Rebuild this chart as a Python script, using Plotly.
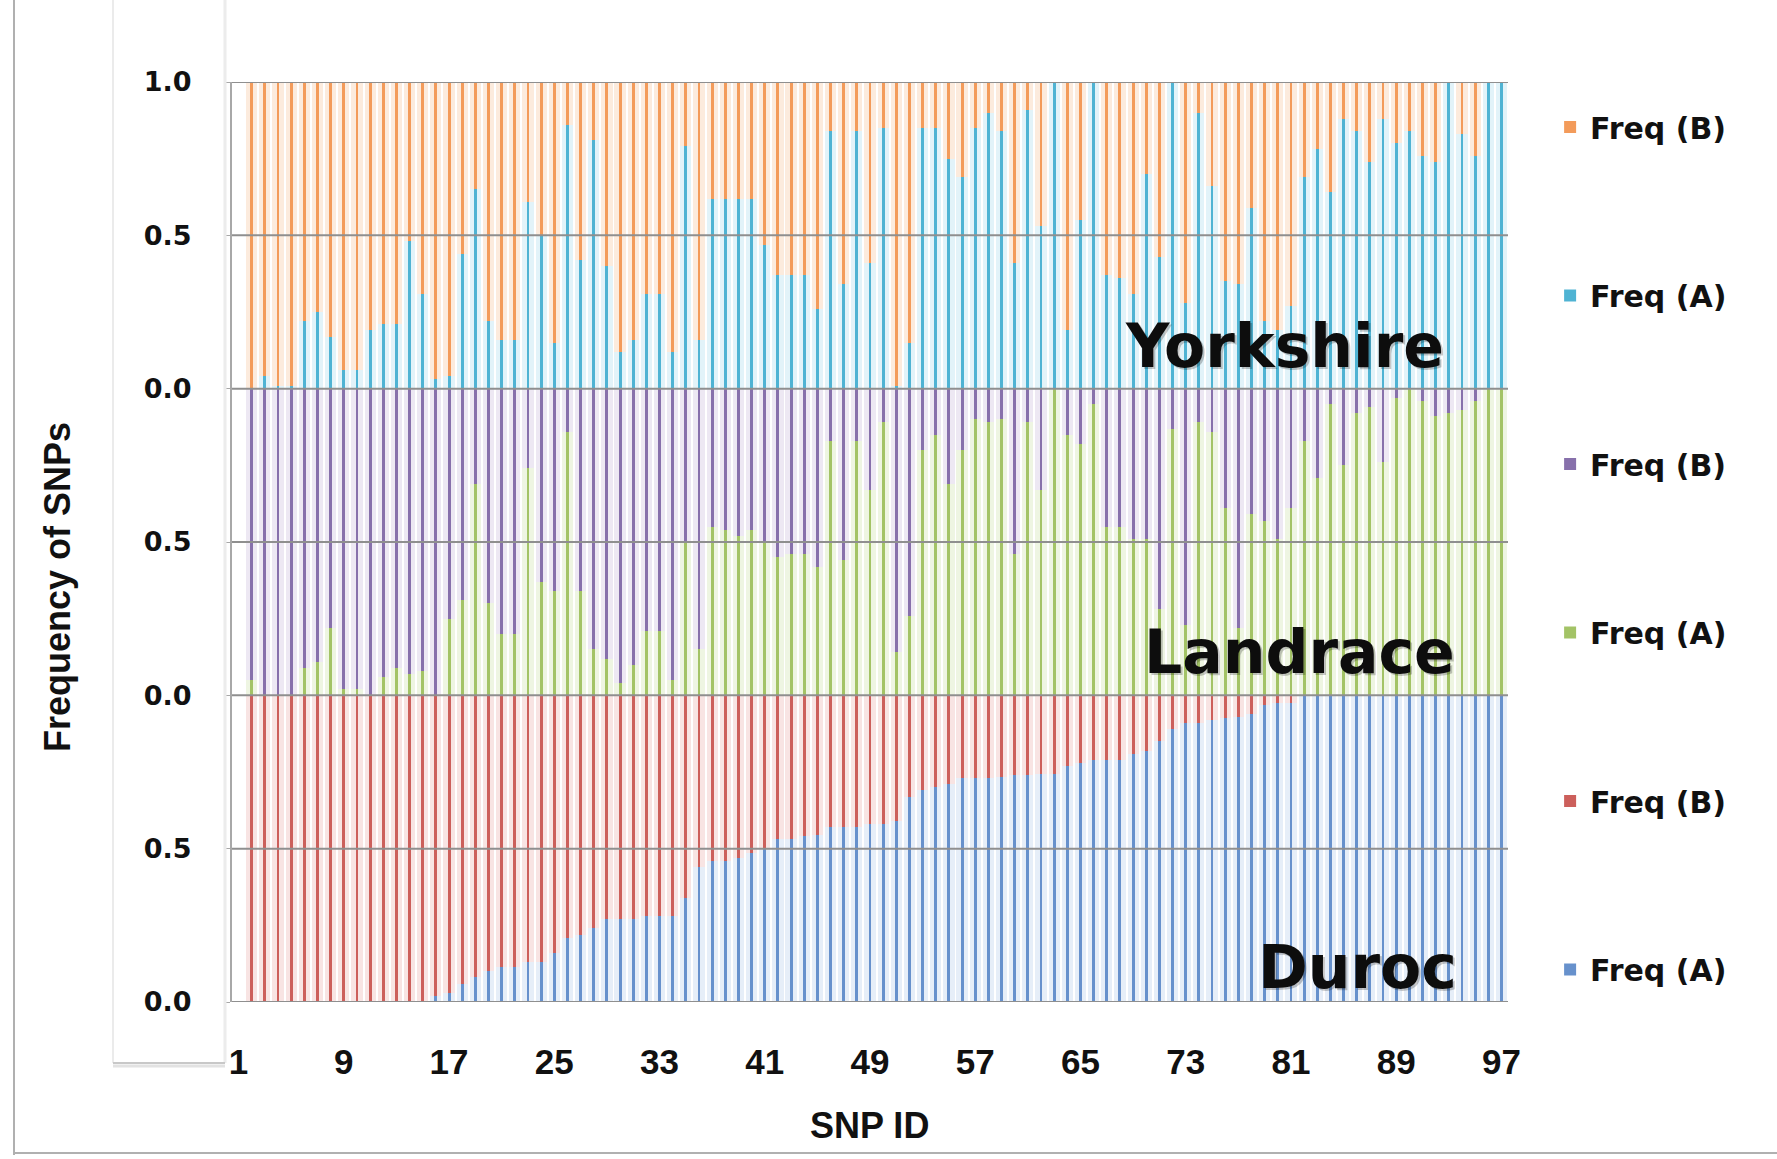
import plotly.graph_objects as go

snp_ids = list(range(1, 98))
x_tick_vals = [1, 9, 17, 25, 33, 41, 49, 57, 65, 73, 81, 89, 97]
y_tick_vals = [0, 0.5, 1, 1.5, 2, 2.5, 3]
y_tick_text = ["0.0", "0.5", "0.0", "0.5", "0.0", "0.5", "1.0"]

# Frequency of allele A per SNP (SNP 1 not visible in the reference)
yorkshire_A = [None,
    0.00, 0.04, 0.01, 0.01, 0.22, 0.25, 0.17, 0.06, 0.06, 0.19, 0.21, 0.21, 0.48, 0.31, 0.03, 0.04,
    0.44, 0.65, 0.22, 0.16, 0.16, 0.61, 0.50, 0.15, 0.86, 0.42, 0.81, 0.40, 0.12, 0.16, 0.31, 0.31,
    0.12, 0.79, 0.16, 0.62, 0.62, 0.62, 0.62, 0.47, 0.37, 0.37, 0.37, 0.26, 0.84, 0.34, 0.84, 0.41,
    0.85, 0.01, 0.15, 0.85, 0.85, 0.75, 0.69, 0.85, 0.90, 0.84, 0.41, 0.91, 0.53, 1.00, 0.19, 0.55,
    1.00, 0.37, 0.36, 0.31, 0.70, 0.43, 1.00, 0.28, 0.90, 0.66, 0.35, 0.34, 0.59, 0.22, 0.19, 0.27,
    0.69, 0.78, 0.64, 0.88, 0.84, 0.74, 0.88, 0.80, 0.84, 0.76, 0.74, 1.00, 0.83, 0.76, 1.00, 1.00]

landrace_A = [None,
    0.05, 0.00, 0.00, 0.00, 0.09, 0.11, 0.22, 0.02, 0.02, 0.00, 0.06, 0.09, 0.07, 0.08, 0.00, 0.25,
    0.31, 0.69, 0.30, 0.20, 0.20, 0.74, 0.37, 0.34, 0.86, 0.34, 0.15, 0.12, 0.04, 0.10, 0.21, 0.21,
    0.05, 0.50, 0.15, 0.55, 0.54, 0.52, 0.54, 0.50, 0.45, 0.46, 0.46, 0.42, 0.83, 0.44, 0.83, 0.67,
    0.89, 0.14, 0.26, 0.80, 0.85, 0.69, 0.80, 0.90, 0.89, 0.90, 0.46, 0.89, 0.67, 1.00, 0.85, 0.82,
    0.95, 0.55, 0.55, 0.51, 0.51, 0.28, 0.87, 0.23, 0.89, 0.86, 0.61, 0.22, 0.59, 0.57, 0.51, 0.61,
    0.83, 0.71, 0.95, 0.75, 0.92, 0.94, 0.76, 0.97, 1.00, 0.96, 0.91, 0.92, 0.93, 0.96, 1.00, 1.00]

duroc_A = [None,
    0.00, 0.00, 0.00, 0.00, 0.00, 0.00, 0.00, 0.00, 0.00, 0.00, 0.00, 0.00, 0.00, 0.00, 0.02, 0.03,
    0.06, 0.08, 0.10, 0.115, 0.115, 0.13, 0.13, 0.16, 0.21, 0.22, 0.24, 0.27, 0.27, 0.27, 0.28, 0.28,
    0.28, 0.34, 0.44, 0.46, 0.46, 0.47, 0.485, 0.50, 0.53, 0.53, 0.54, 0.545, 0.57, 0.57, 0.57, 0.58,
    0.58, 0.59, 0.67, 0.69, 0.70, 0.71, 0.73, 0.73, 0.73, 0.735, 0.74, 0.74, 0.745, 0.745, 0.77, 0.78,
    0.79, 0.79, 0.79, 0.81, 0.82, 0.85, 0.89, 0.91, 0.91, 0.92, 0.925, 0.93, 0.94, 0.97, 0.975, 0.975,
    1.00, 1.00, 1.00, 1.00, 1.00, 1.00, 1.00, 1.00, 1.00, 1.00, 1.00, 1.00, 1.00, 1.00, 1.00, 1.00]

breeds = ["Yorkshire", "Landrace", "Duroc"]
breed_A = [yorkshire_A, landrace_A, duroc_A]
panel_offsets = [2, 1, 0]

# (B core, B tint, A core, A tint)
colors = {
    "Yorkshire": ("#f39b5a", "#fcebdd", "#4fb3d3", "#e2f3f9"),
    "Landrace": ("#8770ab", "#ede8f3", "#a3c366", "#eef5e2"),
    "Duroc": ("#cc5f5b", "#f8e4e3", "#6791cc", "#e6eef8"),
}


def comp(vals):
    return [None if v is None else round(1 - v, 3) for v in vals]


fig = go.Figure()
rank = 1
for breed, A, off in zip(breeds, breed_A, panel_offsets):
    B = comp(A)
    baseA = [None if v is None else off for v in A]
    baseB = [None if v is None else off + v for v in A]
    cB, tB, cA, tA = colors[breed]
    fig.add_trace(go.Bar(x=snp_ids, y=B, base=baseB, width=0.85, marker=dict(color=tB, line=dict(width=0)),
                         showlegend=False, hoverinfo="skip"))
    fig.add_trace(go.Bar(x=snp_ids, y=A, base=baseA, width=0.85, marker=dict(color=tA, line=dict(width=0)),
                         showlegend=False, hoverinfo="skip"))
    fig.add_trace(go.Bar(x=snp_ids, y=B, base=baseB, width=0.22, marker=dict(color=cB, line=dict(width=0)),
                         name="<b>Freq (B)</b>", legendgroup=breed + "B", legendrank=rank))
    fig.add_trace(go.Bar(x=snp_ids, y=A, base=baseA, width=0.22, marker=dict(color=cA, line=dict(width=0)),
                         name="<b>Freq (A)</b>", legendgroup=breed + "A", legendrank=rank + 1))
    rank += 2

L, R, T, Bm = 232, 269, 82, 157
PW, PH = 1777 - L - R, 1159 - T - Bm


def px(xp):
    return (xp - L) / PW


def py(yp):
    return (1159 - Bm - yp) / PH


label_pos = {"Yorkshire": (px(1446), 2.14), "Landrace": (px(1457), 1.14), "Duroc": (px(1459), 0.115)}
annotations = []
for breed in breeds:
    lx, ly = label_pos[breed]
    annotations.append(dict(x=lx, y=ly, xref="paper", yref="y", xanchor="right", yanchor="middle",
                            xshift=2, yshift=-2, showarrow=False, text="<b>%s</b>" % breed,
                            font=dict(family="DejaVu Sans", size=60, color="rgba(0,0,0,0.22)")))
    annotations.append(dict(x=lx, y=ly, xref="paper", yref="y", xanchor="right", yanchor="middle",
                            showarrow=False, text="<b>%s</b>" % breed,
                            font=dict(family="DejaVu Sans", size=60, color="#0d0d0d")))

annotations.append(dict(x=px(57), y=py(587), xref="paper", yref="paper", xanchor="center", yanchor="middle",
                        textangle=-90, showarrow=False, text="<b>Frequency of SNPs</b>",
                        font=dict(family="Liberation Sans", size=36, color="#111111")))
annotations.append(dict(x=px(869), y=py(1125), xref="paper", yref="paper", xanchor="center", yanchor="middle",
                        showarrow=False, text="<b>SNP ID</b>",
                        font=dict(family="Liberation Sans", size=36, color="#111111")))

shapes = [
    dict(type="line", xref="paper", yref="paper", x0=px(14), x1=px(14), y0=py(0), y1=py(1155),
         line=dict(color="#b0b0b0", width=2)),
    dict(type="line", xref="paper", yref="paper", x0=px(14), x1=px(1777), y0=py(1153), y1=py(1153),
         line=dict(color="#b0b0b0", width=2)),
    dict(type="line", xref="paper", yref="paper", x0=px(113), x1=px(113), y0=py(0), y1=py(1063),
         line=dict(color="#e4e4e4", width=1.5)),
    dict(type="line", xref="paper", yref="paper", x0=px(225), x1=px(225), y0=py(0), y1=py(1063),
         line=dict(color="#ececec", width=3)),
    dict(type="line", xref="paper", yref="paper", x0=px(113), x1=px(225), y0=py(1063), y1=py(1063),
         line=dict(color="#c8c8c8", width=2)),
    dict(type="line", xref="paper", yref="paper", x0=px(113), x1=px(225), y0=py(1066), y1=py(1066),
         line=dict(color="#e2e2e2", width=3)),
]
for yv in y_tick_vals:
    shapes.append(dict(type="line", xref="paper", yref="y", x0=0, x1=1, y0=yv, y1=yv, layer="above",
                       line=dict(color="#8f8f8f", width=2)))

fig.update_layout(
    width=1777, height=1159,
    margin=dict(l=L, r=R, t=T, b=Bm),
    paper_bgcolor="white", plot_bgcolor="white",
    barmode="overlay", bargap=0,
    showlegend=True,
    legend=dict(x=1.033, y=py(101), xanchor="left", yanchor="top", tracegroupgap=126.5,
                font=dict(family="DejaVu Sans", size=30, color="#111111"),
                bgcolor="rgba(0,0,0,0)", itemclick=False, itemdoubleclick=False),
    xaxis=dict(range=[0.5, 97.5], tickmode="array", tickvals=x_tick_vals,
               ticktext=["<b>%d</b>" % v for v in x_tick_vals], showgrid=False, zeroline=False,
               showline=False, ticks="", ticklabelstandoff=36,
               tickfont=dict(family="Liberation Sans", size=35, color="#111111")),
    yaxis=dict(range=[0, 3], tickmode="array", tickvals=y_tick_vals,
               ticktext=["<b>%s</b>" % t for t in y_tick_text],
               showgrid=False, zeroline=False,
               showline=True, linecolor="#a8a8a8", linewidth=2, ticks="outside", ticklen=6,
               tickcolor="#a8a8a8", ticklabelstandoff=27,
               tickfont=dict(family="DejaVu Sans", size=27, color="#111111")),
    annotations=annotations,
    shapes=shapes,
)

fig.write_html("out.html", config={"displayModeBar": False},
               post_script="document.body.style.margin='0';document.body.style.overflow='hidden';")
